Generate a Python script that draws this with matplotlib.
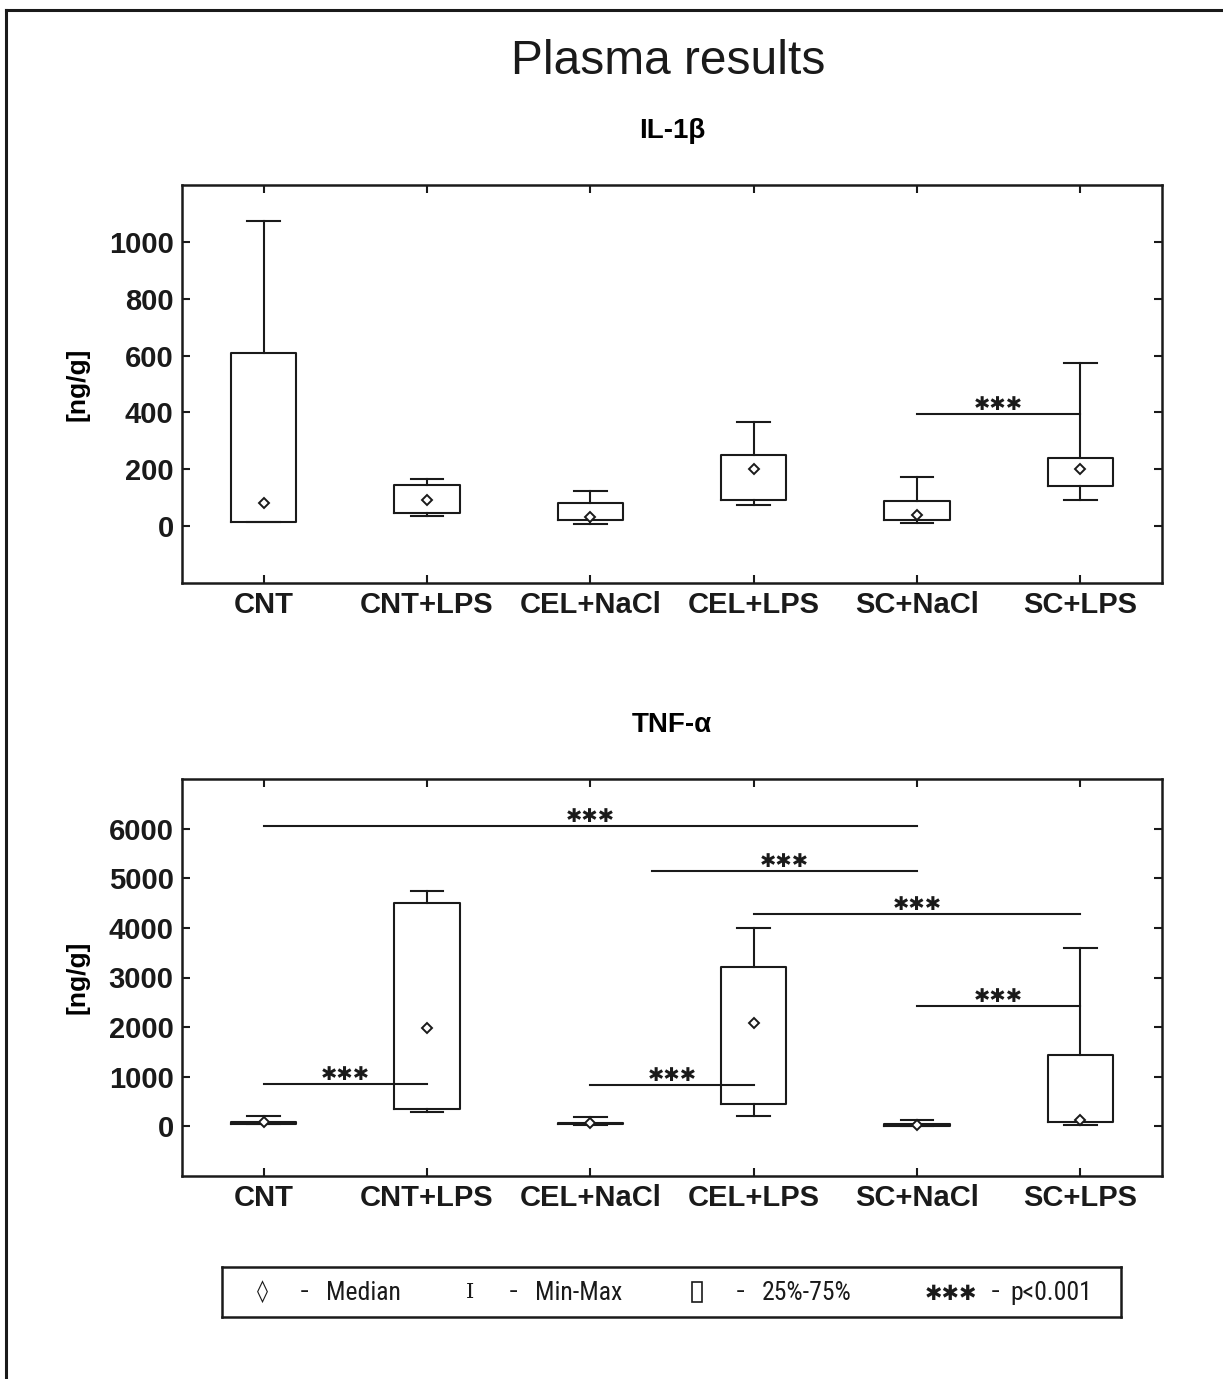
import matplotlib
matplotlib.use('Agg')
import matplotlib.pyplot as plt
from matplotlib.lines import Line2D
from matplotlib.patches import Rectangle
import numpy as np

plt.rcParams['font.family'] = ['Liberation Sans', 'DejaVu Sans']

groups = ['CNT', 'CNT+LPS', 'CEL+NaCl', 'CEL+LPS', 'SC+NaCl', 'SC+LPS']

# -- IL-1beta (ng/g)
il1b_min = [15, 34, 7, 75, 11, 92]
il1b_q1 = [15, 47, 20, 92, 21, 141]
il1b_med = [82, 91, 33, 202, 39, 200]
il1b_q3 = [610, 145, 81, 252, 89, 239]
il1b_max = [1072, 166, 125, 367, 172, 573]
il1b_sig = [(5, 6, 393)]

# -- TNF-alpha (ng/g)
tnf_min = [40, 282, 30, 210, 5, 20]
tnf_q1 = [45, 357, 40, 444, 15, 89]
tnf_med = [85, 1975, 60, 2076, 20, 129]
tnf_q3 = [80, 4503, 70, 3213, 45, 1431]
tnf_max = [202, 4737, 181, 4000, 129, 3596]
tnf_sig = [(1, 2, 860), (1, 5, 6055), (3.38, 5, 5148), (4, 6, 4288), (3, 4, 827), (5, 6, 2419)]

INK = '#1a1a1a'
W, H = 1223, 1379


def px_axes(fig, x0, y0, x1, y1):
    return fig.add_axes([x0 / W, 1 - y1 / H, (x1 - x0) / W, (y1 - y0) / H])


def draw_panel(ax, lo, q1, med, q3, hi, sig, ylim, yticks, title):
    pos = np.arange(1, len(groups) + 1)
    stats = [dict(whislo=a, q1=b, med=c, q3=d, whishi=e, fliers=[])
             for a, b, c, d, e in zip(lo, q1, med, q3, hi)]
    lp = dict(color=INK, lw=1.5)
    ax.bxp(stats, positions=pos, widths=0.4, capwidths=0.2, showfliers=False,
           boxprops=lp, whiskerprops=lp, capprops=lp,
           medianprops=dict(visible=False))
    ax.plot(pos, med, 'D', ms=5.5, mfc='white', mec=INK, mew=1.4, ls='none', zorder=5)

    # -- significance bars
    for a, b, y in sig:
        ax.plot([a, b], [y, y], color=INK, lw=1.5, zorder=4)
        ax.annotate('✱✱✱', xy=((a + b) / 2, y), xytext=(0, 0), textcoords='offset points',
                    ha='center', va='bottom', fontsize=14, fontweight='bold', color=INK,
                    family='DejaVu Sans')

    ax.set_xlim(0.5, len(groups) + 0.5)
    ax.set_ylim(*ylim)
    ax.set_xticks(pos)
    ax.set_xticklabels(groups)
    ax.set_yticks(yticks)
    ax.tick_params(direction='in', length=6, width=1.5, top=True, right=True,
                   labelsize=21, pad=6, colors=INK)
    for lab in ax.get_xticklabels() + ax.get_yticklabels():
        lab.set_fontweight('bold')
    for s in ax.spines.values():
        s.set_linewidth(1.8)
        s.set_color(INK)
    ax.set_ylabel('[ng/g]', fontsize=19, fontweight='bold', labelpad=14)
    ax.set_title(title, fontsize=20, fontweight='bold', pad=34)


fig = plt.figure(figsize=(W / 100, H / 100), dpi=100)

ax1 = px_axes(fig, 182, 185, 1162, 583)
draw_panel(ax1, il1b_min, il1b_q1, il1b_med, il1b_q3, il1b_max, il1b_sig,
           (-200, 1200), range(0, 1001, 200), 'IL-1β')

ax2 = px_axes(fig, 182, 779, 1162, 1176)
draw_panel(ax2, tnf_min, tnf_q1, tnf_med, tnf_q3, tnf_max, tnf_sig,
           (-1000, 7000), range(0, 6001, 1000), 'TNF-α')

fig.text(0.546, 1 - 61 / H, 'Plasma results', ha='center', va='center', fontsize=34.5, color=INK)

# -- key box
axl = px_axes(fig, 222, 1267, 1121, 1317)
axl.set_xticks([])
axl.set_yticks([])
for s in axl.spines.values():
    s.set_linewidth(1.8)
    s.set_color(INK)
narrow = ['Roboto Condensed', 'Liberation Sans']
kx = lambda p: (p - 222) / (1121 - 222)
axl.text(kx(262), 0.5, '◊', ha='center', va='center', fontsize=16, family='DejaVu Sans', color=INK)
axl.text(kx(470), 0.5, 'I', ha='center', va='center', fontsize=15, family='DejaVu Serif', color=INK)
axl.add_patch(Rectangle((kx(692), 0.3), 10 / 899, 0.4, transform=axl.transAxes,
                        fill=False, ec=INK, lw=1.2))
axl.text(kx(951), 0.47, '✱✱✱', ha='center', va='center', fontsize=15, fontweight='bold',
         family='DejaVu Sans', color=INK)
for p in [304, 513, 740, 995]:
    axl.text(kx(p), 0.52, '-', ha='center', va='center', fontsize=20, family='Liberation Sans', color=INK)
for p, t in [(326, 'Median'), (535, 'Min-Max'), (762, '25%-75%'), (1010, 'p<0.001')]:
    axl.text(kx(p), 0.48, t, ha='left', va='center', fontsize=18.5, family=narrow, color=INK)

# -- outer frame (top and left edges)
fig.add_artist(Line2D([6 / W, 1], [1 - 10 / H] * 2, transform=fig.transFigure, color=INK, lw=2.2))
fig.add_artist(Line2D([6 / W] * 2, [0, 1 - 10 / H], transform=fig.transFigure, color=INK, lw=2.2))

fig.savefig('out.png', dpi=100)
